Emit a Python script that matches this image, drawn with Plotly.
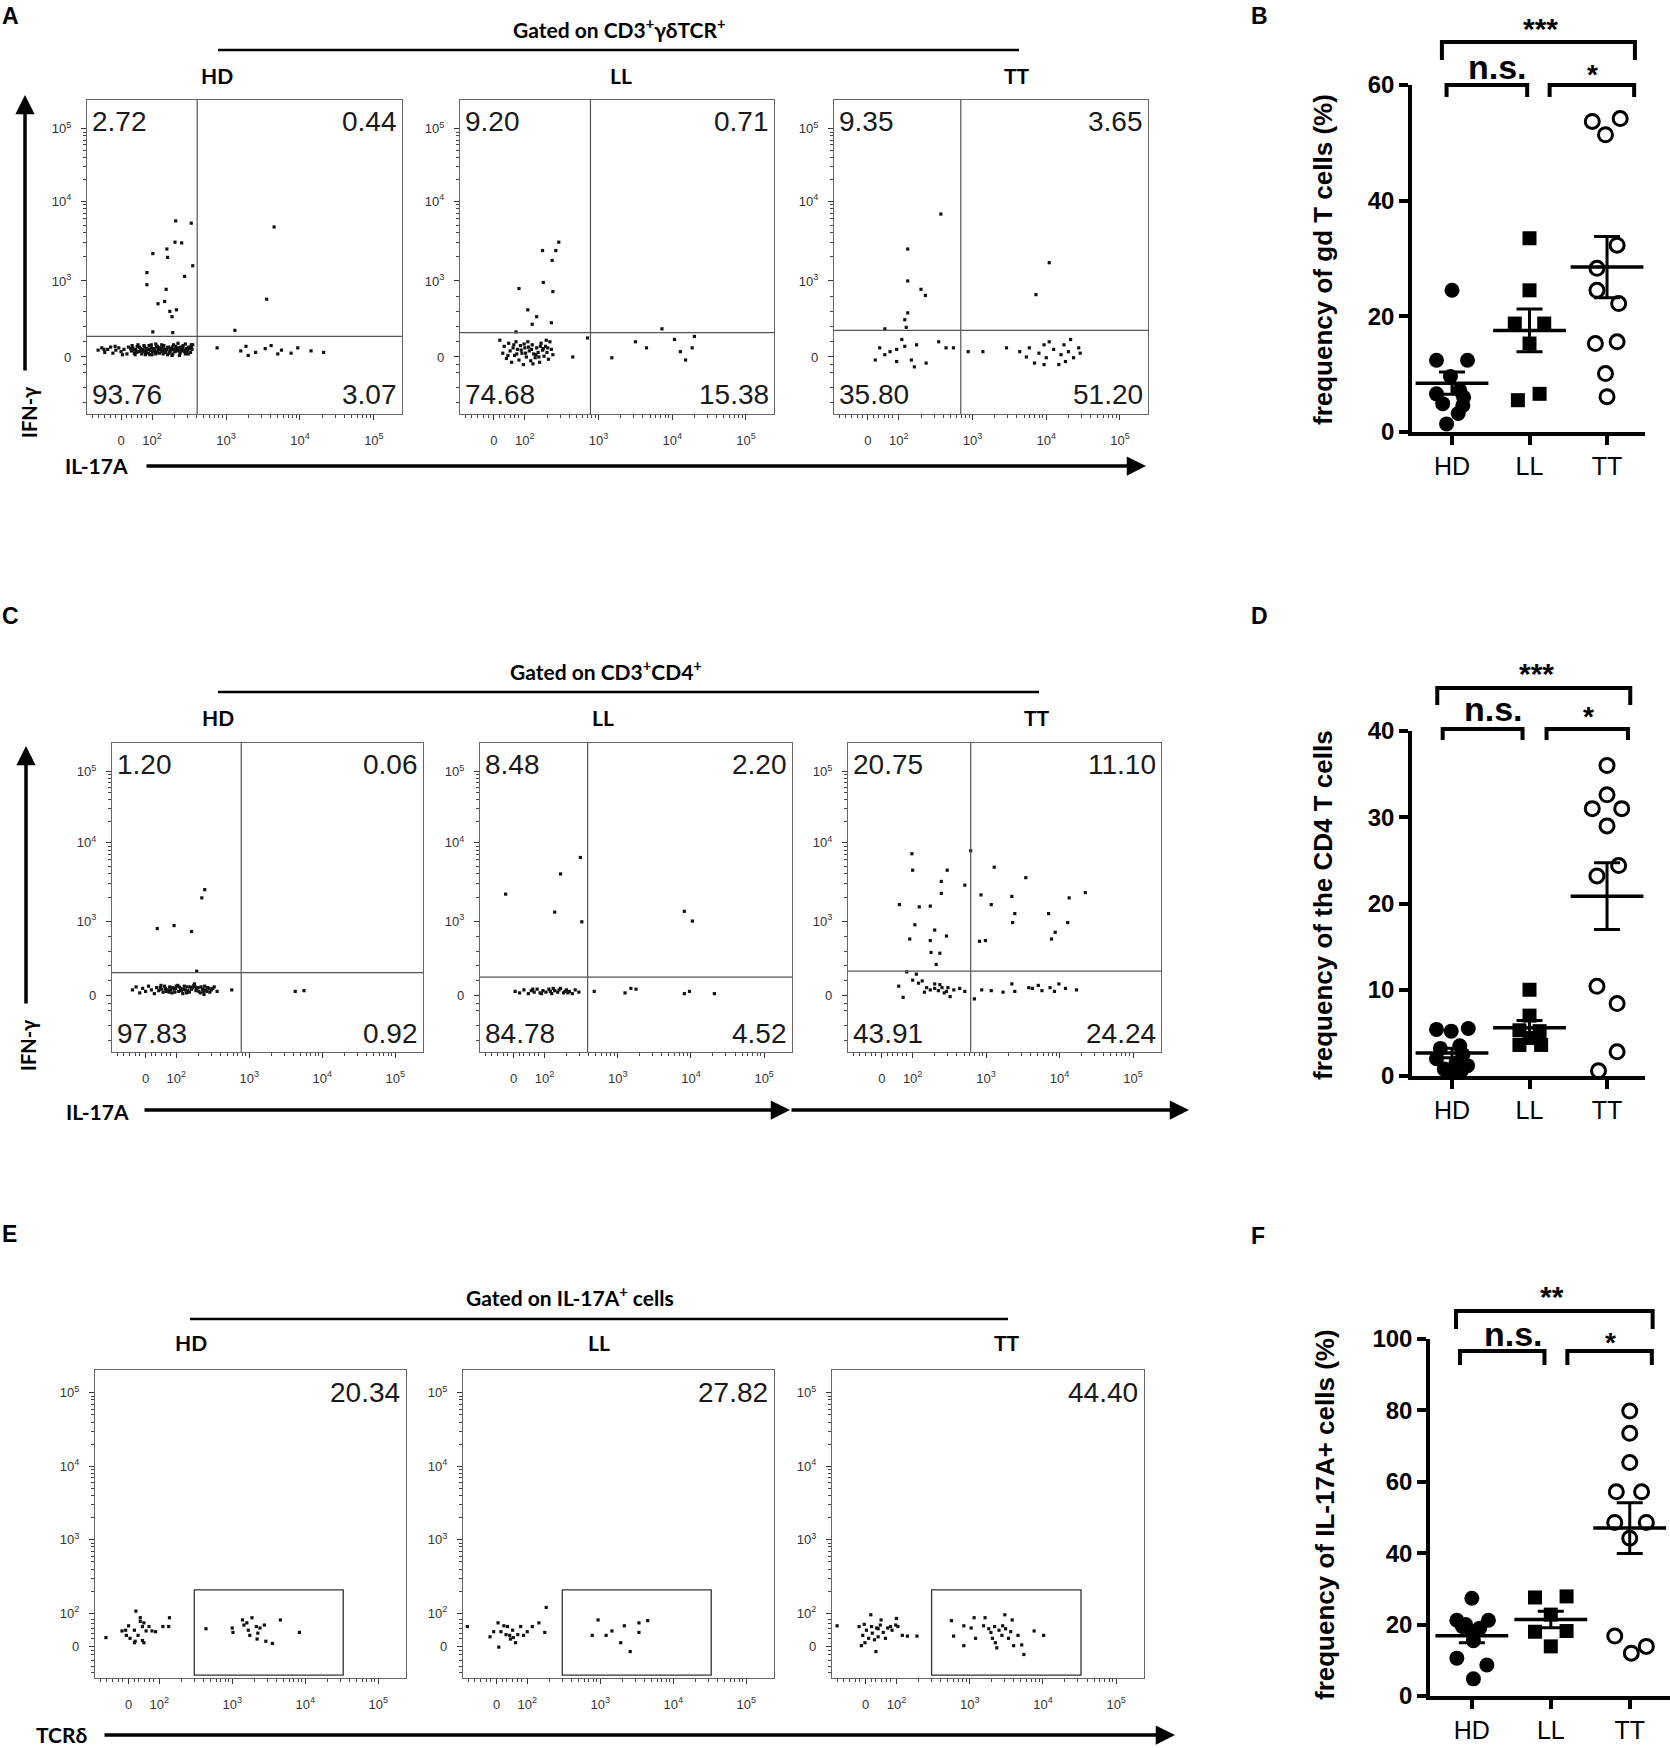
import math
import statistics
import plotly.graph_objects as go

W, H = 1670, 1748


def px(x):
    return x / W


def py(y):
    return 1 - y / H


groups = ["HD", "LL", "TT"]

# ---------------- dot plots (B, D, F) ----------------
# values (%) and horizontal spread of each dot (category units)
b_hd = [24.5, 12.4, 12.4, 9.6, 7.2, 6.6, 6.0, 4.9, 4.6, 3.2, 1.4]
b_hd_dx = [0, -0.2, 0.2, -0.02, 0.1, -0.2, 0.15, -0.12, 0.14, 0.08, -0.07]
b_ll = [33.5, 24.5, 18.75, 18.75, 15.3, 6.6, 5.5]
b_ll_dx = [0, 0, -0.19, 0.19, 0, 0.13, -0.15]
b_tt = [53.7, 51.4, 54.2, 32.3, 28.3, 24.5, 22.2, 15.3, 15.6, 10.1, 6.1]
b_tt_dx = [-0.19, -0.02, 0.17, 0.13, -0.13, -0.13, 0.15, -0.15, 0.13, -0.02, 0]

d_hd = [5.4, 5.2, 5.5, 3.5, 3.2, 2.5, 2.0, 1.5, 1.2, 0.8, 0.5, 0.6]
d_hd_dx = [-0.2, -0.01, 0.21, 0.1, -0.15, 0.14, -0.2, 0.05, 0.2, -0.1, 0.0, 0.12]
d_ll = [10.0, 7.0, 5.3, 5.2, 4.4, 3.6, 3.6]
d_ll_dx = [0, 0, -0.13, 0.13, 0, -0.13, 0.15]
d_tt = [36.0, 32.6, 31.0, 31.0, 29.0, 24.4, 23.2, 10.4, 8.4, 2.8, 0.6]
d_tt_dx = [0, 0, -0.19, 0.19, 0, 0.15, -0.13, -0.13, 0.13, 0.13, -0.11]

f_hd = [27.4, 21.2, 21.2, 20.0, 19.5, 19.0, 18.0, 15.5, 10.6, 8.7, 4.8]
f_hd_dx = [0, -0.19, 0.21, -0.08, -0.12, 0.1, 0.0, 0.02, -0.19, 0.19, 0.02]
f_ll = [27.6, 27.9, 22.8, 18.0, 18.2, 13.9]
f_ll_dx = [-0.2, 0.2, 0, -0.2, 0.2, 0]
f_tt = [79.8, 73.6, 65.4, 57.2, 57.2, 48.6, 48.6, 44.2, 16.8, 13.9, 12.0]
f_tt_dx = [0, 0, 0, -0.17, 0.15, -0.19, 0.21, 0, -0.19, 0.21, 0.02]

# ---------------- flow plots (A, C, E), display units of biexponential axes ----------------
a_hd_pts = [
    (1.27, 2.09), (1.32, 2.12), (1.35, 2.10), (1.36, 2.06), (1.40, 2.10), (1.44, 2.13), (1.47, 2.05),
    (1.50, 2.14), (1.51, 2.09), (1.55, 2.12), (1.58, 2.07), (1.60, 2.03), (1.62, 2.10), (1.66, 2.04),
    (1.68, 2.13), (1.72, 2.08), (1.74, 2.12), (1.75, 2.09), (1.76, 2.05), (1.78, 2.10), (1.79, 2.06),
    (1.80, 2.14), (1.82, 2.07), (1.83, 2.13), (1.84, 2.11), (1.85, 2.08), (1.86, 2.04), (1.87, 2.10),
    (1.88, 2.09), (1.90, 2.13), (1.91, 2.08), (1.92, 2.06), (1.93, 2.11), (1.94, 2.10), (1.95, 2.05),
    (1.96, 2.15), (1.98, 2.08), (1.99, 2.12), (2.00, 2.03), (2.01, 2.07), (2.02, 2.11), (2.03, 2.09),
    (2.04, 2.07), (2.05, 2.17), (2.06, 2.13), (2.07, 2.06), (2.08, 2.09), (2.09, 2.12), (2.10, 2.05),
    (2.11, 2.10), (2.12, 2.12), (2.14, 2.08), (2.15, 2.12), (2.16, 2.15), (2.17, 2.10), (2.18, 2.06),
    (2.19, 2.09), (2.20, 2.10), (2.22, 2.13), (2.23, 2.05), (2.24, 2.07), (2.25, 2.09), (2.26, 2.11),
    (2.27, 2.13), (2.28, 2.04), (2.30, 2.09), (2.31, 2.07), (2.32, 2.14), (2.33, 2.11), (2.34, 2.08),
    (2.35, 2.10), (2.36, 2.12), (2.38, 2.05), (2.39, 2.13), (2.40, 2.10), (2.41, 2.08), (2.42, 2.15),
    (2.43, 2.09), (2.44, 2.07), (2.45, 2.17), (2.46, 2.11), (2.47, 2.06), (2.48, 2.09), (2.49, 2.12),
    (2.50, 2.13), (2.51, 2.11), (2.52, 2.06), (2.54, 2.10), (2.55, 2.16), (2.35, 2.18),
    (1.97, 2.10), (2.13, 2.07), (2.21, 2.12), (2.29, 2.10), (2.37, 2.08), (2.53, 2.13), (1.89, 2.07),
    (1.73, 2.15), (1.77, 2.03), (1.81, 2.16), (1.89, 2.15), (1.97, 2.03), (2.05, 2.04), (2.13, 2.16),
    (2.21, 2.03), (2.29, 2.16), (2.37, 2.02), (2.45, 2.04), (2.53, 2.16), (1.71, 2.11), (1.99, 2.16),
    (2.27, 2.02), (2.41, 2.13), (2.07, 2.14), (1.91, 2.03), (2.15, 2.04), (2.49, 2.04),
    (2.32, 3.79), (2.53, 3.76), (2.31, 3.51), (2.40, 3.50), (2.01, 3.36), (2.20, 3.42), (2.21, 3.31),
    (2.55, 3.20), (1.93, 3.11), (2.44, 3.06), (1.93, 2.95), (2.19, 2.89), (2.08, 2.70), (2.17, 2.73),
    (2.33, 2.62), (2.24, 2.60), (2.27, 2.53), (2.01, 2.33), (2.28, 2.32),
    (3.65, 3.71), (3.55, 2.76), (3.12, 2.35),
    (2.88, 2.12), (3.20, 2.08), (3.27, 2.14), (3.40, 2.06), (3.53, 2.11), (3.61, 2.15), (3.75, 2.09),
    (3.88, 2.05), (3.97, 2.12), (4.15, 2.08), (4.32, 2.06), (3.30, 2.02), (3.70, 2.04),
]
a_ll_pts = [
    (1.66, 2.22), (1.70, 2.05), (1.72, 2.14), (1.75, 1.98), (1.78, 2.18), (1.80, 2.08), (1.82, 1.93),
    (1.84, 2.12), (1.86, 2.02), (1.88, 2.20), (1.90, 2.10), (1.92, 1.96), (1.94, 2.15), (1.96, 2.05),
    (1.98, 1.90), (2.00, 2.12), (2.02, 2.00), (2.04, 2.20), (2.06, 2.08), (2.08, 1.95), (2.10, 2.16),
    (2.12, 2.04), (2.14, 1.99), (2.16, 2.12), (2.18, 2.06), (2.20, 1.93), (2.22, 2.18), (2.24, 2.09),
    (2.26, 2.01), (2.28, 2.14), (2.30, 2.06), (2.32, 1.97), (2.34, 2.20), (2.36, 2.10), (2.38, 2.03),
    (1.85, 2.16), (1.95, 2.09), (2.05, 2.13), (2.15, 2.03), (2.25, 2.11), (1.77, 2.02), (1.99, 2.17),
    (2.11, 1.91), (2.21, 2.14), (2.31, 2.12), (1.89, 2.04), (2.09, 2.10), (2.19, 2.00), (2.29, 2.22),
    (2.01, 2.05),
    (2.46, 3.51), (2.24, 3.40), (2.42, 3.40), (2.37, 3.27), (1.92, 2.90), (2.25, 2.98), (2.38, 2.86),
    (2.04, 2.62), (2.16, 2.53), (2.36, 2.45), (2.10, 2.43), (1.88, 2.33),
    (2.85, 2.25), (3.18, 1.99), (3.50, 2.20), (3.65, 2.12), (3.86, 2.37), (4.03, 2.23), (4.11, 2.07),
    (4.18, 1.96), (4.30, 2.27), (4.27, 2.12), (2.65, 2.00),
]
a_tt_pts = [
    (2.57, 3.88), (2.12, 3.42), (2.12, 3.00), (2.30, 2.89), (2.36, 2.81), (2.12, 2.58), (2.08, 2.49),
    (2.10, 2.39), (4.04, 3.24), (3.86, 2.82), (1.81, 2.37),
    (1.68, 1.96), (1.74, 2.12), (1.88, 2.07), (1.97, 2.10), (2.04, 2.23), (2.08, 2.14), (2.17, 1.96),
    (2.24, 2.16), (2.37, 1.92), (2.54, 2.20), (2.64, 2.12), (2.74, 2.12), (2.21, 1.87), (1.97, 1.94),
    (1.81, 2.03),
    (2.94, 2.07), (3.14, 2.07), (3.46, 2.12), (3.64, 2.07), (3.77, 2.12), (3.84, 1.92), (3.90, 2.05),
    (3.97, 2.16), (4.00, 1.99), (4.04, 2.20), (4.10, 2.10), (4.17, 1.90), (4.20, 2.03), (4.24, 2.16),
    (4.26, 1.94), (4.30, 2.07), (4.33, 2.23), (4.37, 1.99), (4.44, 2.12), (4.46, 2.05), (3.97, 1.90),
    (3.73, 2.00),
]
c_hd_pts = [
    (1.40, 2.08), (1.45, 2.12), (1.50, 2.04), (1.54, 2.10), (1.58, 2.06), (1.62, 2.13), (1.66, 2.08),
    (1.70, 2.03), (1.73, 2.11), (1.76, 2.07), (1.79, 2.14), (1.82, 2.05), (1.85, 2.10), (1.88, 2.08),
    (1.91, 2.12), (1.94, 2.04), (1.97, 2.09), (2.00, 2.13), (2.03, 2.06), (2.06, 2.10), (2.09, 2.03),
    (2.12, 2.08), (2.15, 2.12), (2.18, 2.05), (2.21, 2.09), (2.24, 2.14), (2.27, 2.07), (2.30, 2.11),
    (2.33, 2.04), (2.36, 2.09), (2.39, 2.13), (2.42, 2.06), (2.45, 2.10), (2.48, 2.08), (2.52, 2.12),
    (2.56, 2.06), (1.80, 2.09), (1.86, 2.06), (1.92, 2.08), (1.98, 2.05), (2.04, 2.12), (2.10, 2.09),
    (2.16, 2.07), (2.22, 2.11), (2.28, 2.09), (2.34, 2.12), (2.40, 2.08), (2.46, 2.05), (1.95, 2.11),
    (2.07, 2.07), (2.19, 2.12), (2.31, 2.06), (2.43, 2.11), (2.25, 2.16), (2.38, 2.02),
    (1.78, 2.11), (1.84, 2.13), (1.90, 2.05), (2.02, 2.14), (2.14, 2.04), (2.26, 2.12), (2.37, 2.06),
    (2.50, 2.10), (1.99, 2.10), (2.11, 2.13),
    (2.39, 3.42), (2.35, 3.31), (1.74, 2.90), (1.97, 2.94), (2.21, 2.86), (2.28, 2.33),
    (3.63, 2.06), (3.75, 2.07), (2.76, 2.08),
]
c_ll_pts = [
    (1.60, 2.06), (1.66, 2.04), (1.72, 2.08), (1.78, 2.03), (1.82, 2.07), (1.86, 2.05), (1.90, 2.09),
    (1.94, 2.04), (1.98, 2.07), (2.02, 2.05), (2.06, 2.09), (2.10, 2.03), (2.14, 2.07), (2.18, 2.05),
    (2.22, 2.10), (2.26, 2.04), (2.30, 2.08), (2.34, 2.06), (2.38, 2.03), (2.42, 2.08), (2.47, 2.05),
    (1.84, 2.09), (1.96, 2.03), (2.08, 2.06), (2.20, 2.08), (2.32, 2.04), (2.12, 2.10), (2.28, 2.06),
    (1.47, 3.36), (2.22, 3.63), (2.49, 3.85), (2.14, 3.12), (2.51, 2.99), (3.91, 3.13), (4.02, 3.00),
    (3.10, 2.04), (3.18, 2.10), (3.25, 2.09), (2.68, 2.06), (3.91, 2.03), (3.98, 2.06), (4.32, 2.03),
]
c_tt_pts = [
    (1.99, 3.90), (2.00, 3.68), (2.47, 3.68), (2.39, 3.53), (2.39, 3.37), (2.71, 3.48), (1.82, 3.22),
    (2.24, 3.20), (2.09, 3.19), (2.03, 2.95), (2.30, 2.88), (1.96, 2.76), (2.46, 2.80), (2.25, 2.58),
    (2.37, 2.57), (2.32, 2.42), (2.24, 2.74),
    (2.79, 3.94), (3.11, 3.72), (3.54, 3.58), (2.93, 3.35), (3.35, 3.33), (3.07, 3.22), (3.39, 3.10),
    (3.36, 2.98), (3.85, 3.10), (4.13, 3.31), (4.35, 3.38), (4.11, 2.98), (3.94, 2.85), (3.89, 2.76),
    (2.91, 2.73), (2.99, 2.74),
    (1.81, 2.13), (1.87, 1.98), (1.92, 2.32), (2.05, 2.29), (2.13, 2.20), (2.19, 2.11), (2.24, 2.08),
    (2.30, 2.10), (2.35, 2.07), (2.40, 2.11), (2.46, 2.06), (2.51, 1.99), (2.56, 2.08), (2.64, 2.10),
    (2.71, 2.06), (2.08, 2.17), (2.30, 2.16), (2.43, 2.04), (2.48, 2.11), (2.16, 2.05), (2.00, 2.21),
    (2.37, 2.15),
    (2.84, 1.96), (2.94, 2.08), (3.07, 2.07), (3.23, 2.05), (3.35, 2.16), (3.39, 2.06), (3.58, 2.11),
    (3.71, 2.14), (3.76, 2.07), (3.87, 2.11), (3.99, 2.16), (4.08, 2.10), (4.23, 2.08), (3.93, 2.06),
    (3.63, 2.10),
]
e_hd_pts = [
    (1.27, 1.67), (1.49, 1.76), (1.55, 1.70), (1.58, 1.83), (1.60, 1.66), (1.66, 1.77), (1.68, 2.03),
    (1.71, 1.70), (1.74, 1.89), (1.77, 1.82), (1.79, 1.87), (1.79, 1.60), (1.82, 1.76), (1.86, 1.82),
    (1.90, 1.76), (1.95, 1.75), (2.05, 1.82), (2.14, 1.94), (2.13, 1.82), (1.67, 1.62), (1.54, 1.77),
    (1.74, 1.94), (1.66, 1.60), (1.77, 1.63),
    (2.64, 1.79), (3.00, 1.80), (3.01, 1.74), (3.14, 1.91), (3.16, 1.84), (3.20, 1.87), (3.27, 1.94),
    (3.22, 1.77), (3.24, 1.70), (3.33, 1.82), (3.34, 1.65), (3.38, 1.80), (3.44, 1.84), (3.46, 1.62),
    (3.55, 1.59), (3.66, 1.91), (3.92, 1.74), (3.35, 1.73),
]
e_ll_pts = [
    (1.18, 1.82), (1.49, 1.68), (1.54, 1.75), (1.60, 1.87), (1.61, 1.54), (1.64, 1.75), (1.68, 1.83),
    (1.71, 1.71), (1.73, 1.82), (1.77, 1.65), (1.80, 1.77), (1.84, 1.60), (1.87, 1.71), (1.91, 1.82),
    (1.95, 1.70), (2.00, 1.75), (2.07, 1.82), (2.16, 1.87), (2.24, 1.74), (2.26, 2.08), (1.76, 1.70),
    (1.81, 1.67),
    (2.89, 1.70), (2.97, 1.91), (3.08, 1.70), (3.16, 1.76), (3.28, 1.60), (3.33, 1.83), (3.41, 1.48),
    (3.53, 1.87), (3.53, 1.74), (3.65, 1.90),
]
e_tt_pts = [
    (1.19, 1.83), (1.49, 1.82), (1.52, 1.56), (1.54, 1.70), (1.57, 1.60), (1.59, 1.77), (1.62, 1.66),
    (1.65, 1.98), (1.66, 1.82), (1.67, 1.73), (1.70, 1.64), (1.72, 1.48), (1.73, 1.80), (1.75, 1.68),
    (1.78, 1.84), (1.79, 1.91), (1.82, 1.74), (1.85, 1.66), (1.88, 1.80), (1.92, 1.82), (1.94, 1.77),
    (1.99, 1.84), (2.00, 1.93), (2.02, 1.82), (2.08, 1.70), (2.15, 1.69), (2.28, 1.69), (1.56, 1.85),
    (1.75, 1.79),
    (2.75, 1.90), (2.78, 1.69), (2.92, 1.83), (2.92, 1.56), (3.02, 1.80), (3.06, 1.94), (3.08, 1.66),
    (3.19, 1.83), (3.21, 1.94), (3.26, 1.79), (3.29, 1.74), (3.31, 1.66), (3.35, 1.60), (3.37, 1.53),
    (3.40, 1.77), (3.44, 1.70), (3.45, 1.83), (3.48, 1.98), (3.49, 1.79), (3.53, 1.66), (3.56, 1.75),
    (3.58, 1.91), (3.60, 1.56), (3.66, 1.70), (3.71, 1.57), (3.74, 1.44), (3.88, 1.76), (4.01, 1.70),
    (3.34, 1.82),
]

# quadrant gate positions (x, y) and quadrant percentages (UL, UR, LL, LR)
a_gates = [(2.61, 2.27), (2.89, 2.32), (2.84, 2.35)]
a_pcts = [["2.72", "0.44", "93.76", "3.07"], ["9.20", "0.71", "74.68", "15.38"],
          ["9.35", "3.65", "35.80", "51.20"]]
c_gates = [(2.89, 2.31), (2.59, 2.25), (2.79, 2.33)]
c_pcts = [["1.20", "0.06", "97.83", "0.92"], ["8.48", "2.20", "84.78", "4.52"],
          ["20.75", "11.10", "43.91", "24.24"]]
e_gate = (2.48, 4.52, 1.16, 2.32)
e_pcts = ["20.34", "27.82", "44.40"]

# ---------------------------------------------------------------------------
fig = go.Figure()
axes = {}
shapes = []
annots = []
FONT = "Liberation Sans, Arial, sans-serif"
HEAD = "Lato, Liberation Sans, sans-serif"


def names(n):
    s = "" if n == 1 else str(n)
    return "x" + s, "y" + s, "xaxis" + s, "yaxis" + s


sup = {2: "10<sup>2</sup>", 3: "10<sup>3</sup>", 4: "10<sup>4</sup>", 5: "10<sup>5</sup>"}
log_minor = [d + math.log10(k) for d in (2, 3, 4) for k in range(2, 10)]
lin_minor = [1.2, 1.28, 1.36, 1.44, 1.5, 1.66, 1.72, 1.8, 1.86, 1.92]


def flow_axis(dom, rng, tickvals, ticktext, minor_vals, anchor, side):
    return dict(
        domain=dom, range=rng, anchor=anchor, side=side, automargin=False,
        showline=True, linecolor="#666", linewidth=1.3, mirror=True,
        showgrid=False, zeroline=False,
        tickmode="array", tickvals=tickvals, ticktext=ticktext,
        ticks="outside", ticklen=5, tickwidth=1, tickcolor="#333",
        tickfont=dict(family=FONT, size=13, color="#333"),
        minor=dict(tickmode="array", tickvals=minor_vals, ticks="outside",
                   ticklen=3, tickwidth=1, tickcolor="#444"),
    )


def flow_panel(n, box, pts, ykind):
    xa, ya, xk, yk = names(n)
    x0, x1, y0, y1 = box
    fig.add_trace(go.Scatter(
        x=[p[0] for p in pts], y=[p[1] for p in pts], mode="markers",
        marker=dict(size=3.2, color="#111", symbol="square"),
        xaxis=xa, yaxis=ya, showlegend=False, hoverinfo="skip"))
    axes[xk] = flow_axis([px(x0), px(x1)], [1.12, 5.38], [1.58, 2, 3, 4, 5],
                         ["0", sup[2], sup[3], sup[4], sup[5]],
                         lin_minor + log_minor, ya, "bottom")
    axes[xk]["ticklabelstandoff"] = 9
    if ykind == "ac":
        axes[yk] = flow_axis([py(y1), py(y0)], [1.25, 5.38], [2, 3, 4.05, 5],
                             ["0", sup[3], sup[4], sup[5]],
                             [1.4, 1.6, 1.8, 1.9, 2.2, 2.4, 2.6, 2.8]
                             + [3 + 1.05 * math.log10(k) for k in range(2, 10)]
                             + [4.05 + 0.95 * math.log10(k) for k in range(2, 10)],
                             xa, "left")
    else:
        axes[yk] = flow_axis([py(y1), py(y0)], [1.12, 5.31], [1.55, 2, 3, 4, 5],
                             ["0", sup[2], sup[3], sup[4], sup[5]],
                             lin_minor + log_minor, xa, "left")
    axes[yk]["ticklabelstandoff"] = 7
    return xa, ya


def quad_text(xa, ya, labels):
    spots = [(0.012, 0.985, "left", "top"), (0.988, 0.985, "right", "top"),
             (0.012, 0.008, "left", "bottom"), (0.988, 0.008, "right", "bottom")]
    for lab, (x, y, xan, yan) in zip(labels, spots):
        annots.append(dict(text=lab, x=x, y=y, xref=xa + " domain", yref=ya + " domain",
                           xanchor=xan, yanchor=yan, showarrow=False,
                           bgcolor="white" if yan == "bottom" else None, borderpad=0,
                           font=dict(family=FONT, size=28, color="#1a1a1a")))


def quad_lines(xa, ya, gx, gy):
    shapes.append(dict(type="line", xref=xa, yref=ya + " domain", x0=gx, x1=gx, y0=0, y1=1,
                       line=dict(color="#555", width=1.2)))
    shapes.append(dict(type="line", xref=xa + " domain", yref=ya, x0=0, x1=1, y0=gy, y1=gy,
                       line=dict(color="#555", width=1.2)))


n = 1
a_boxes = [(87, 402, 100, 414), (460, 774, 100, 414), (834, 1148, 100, 414)]
for box, pts, g, lab in zip(a_boxes, [a_hd_pts, a_ll_pts, a_tt_pts], a_gates, a_pcts):
    xa, ya = flow_panel(n, box, pts, "ac")
    quad_lines(xa, ya, *g)
    quad_text(xa, ya, lab)
    n += 1

c_boxes = [(112, 423, 743, 1052), (480, 792, 743, 1052), (848, 1161, 743, 1052)]
for box, pts, g, lab in zip(c_boxes, [c_hd_pts, c_ll_pts, c_tt_pts], c_gates, c_pcts):
    xa, ya = flow_panel(n, box, pts, "ac")
    quad_lines(xa, ya, *g)
    quad_text(xa, ya, lab)
    n += 1

e_boxes = [(95, 406, 1370, 1678), (463, 774, 1370, 1678), (832, 1144, 1370, 1678)]
for box, pts, lab in zip(e_boxes, [e_hd_pts, e_ll_pts, e_tt_pts], e_pcts):
    xa, ya = flow_panel(n, box, pts, "e")
    shapes.append(dict(type="rect", xref=xa, yref=ya, x0=e_gate[0], x1=e_gate[1],
                       y0=e_gate[2], y1=e_gate[3], line=dict(color="#333", width=1.3)))
    annots.append(dict(text=lab, x=0.988, y=0.985, xref=xa + " domain", yref=ya + " domain",
                       xanchor="right", yanchor="top", showarrow=False,
                       font=dict(family=FONT, size=28, color="#1a1a1a")))
    n += 1


# ---------------- dot plot panels ----------------
def dot_panel(n, xdom, ydom, xrng, yrng, yticks, data, title, title_xy, brackets, stars):
    xa, ya, xk, yk = names(n)
    styles = [dict(symbol="circle", size=15, color="black"),
              dict(symbol="square", size=14, color="black"),
              dict(symbol="circle", size=14, color="white", line=dict(color="black", width=3))]
    for i, ((vals, dx), st) in enumerate(zip(data, styles)):
        fig.add_trace(go.Scatter(x=[i + d for d in dx], y=vals, mode="markers", marker=st,
                                 cliponaxis=False, xaxis=xa, yaxis=ya, showlegend=False))
    for i, (vals, dx) in enumerate(data):
        m = statistics.mean(vals)
        sem = statistics.stdev(vals) / math.sqrt(len(vals))
        fig.add_trace(go.Scatter(
            x=[i], y=[m], mode="markers", cliponaxis=False,
            marker=dict(symbol="line-ew", size=52, line=dict(color="black", width=3.5)),
            error_y=dict(type="data", array=[sem], color="black", thickness=3, width=13),
            xaxis=xa, yaxis=ya, showlegend=False))
    axes[xk] = dict(domain=[px(xdom[0]), px(xdom[1])], range=xrng, anchor=ya,
                    automargin=False,
                    showline=True, linecolor="black", linewidth=3.5, showgrid=False,
                    zeroline=False, tickmode="array", tickvals=[0, 1, 2], ticktext=groups,
                    ticks="outside", ticklen=9, tickwidth=3.5, tickcolor="black",
                    tickfont=dict(family=FONT, size=25, color="black"))
    axes[yk] = dict(domain=[py(ydom[1]), py(ydom[0])], range=yrng, anchor=xa,
                    automargin=False,
                    showline=True, linecolor="black", linewidth=3.5, showgrid=False,
                    zeroline=False, tickmode="array", tickvals=yticks,
                    ticks="outside", ticklen=9, tickwidth=3.5, tickcolor="black",
                    tickfont=dict(family=FONT, size=24, color="black", weight="bold"))
    annots.append(dict(text=title, x=px(title_xy[0]), y=py(title_xy[1]), xref="paper",
                       yref="paper", textangle=-90, showarrow=False,
                       xanchor="center", yanchor="middle",
                       font=dict(family=FONT, size=26, color="black", weight="bold")))

    def cat_x(c):
        return xdom[0] + (c - xrng[0]) / (xrng[1] - xrng[0]) * (xdom[1] - xdom[0])

    for c0, c1, ytop, yleg in brackets:
        a, b = px(cat_x(c0)), px(cat_x(c1))
        shapes.append(dict(type="path", xref="paper", yref="paper",
                           path=f"M {a},{py(yleg)} L {a},{py(ytop)} L {b},{py(ytop)} L {b},{py(yleg)}",
                           line=dict(color="black", width=4)))
    for txt, x, y, size in stars:
        annots.append(dict(text=txt, x=px(x), y=py(y), xref="paper", yref="paper",
                           xanchor="center", yanchor="middle",
                           showarrow=False, font=dict(family=FONT, size=size, color="black",
                                                      weight="bold")))


dot_panel(n, (1412, 1645), (85, 432), [-0.516, 2.49], [0, 60], [0, 20, 40, 60],
          [(b_hd, b_hd_dx), (b_ll, b_ll_dx), (b_tt, b_tt_dx)],
          "frequency of gd T cells (%)", (1323, 260),
          [(-0.13, 2.36, 42, 60), (-0.07, 0.97, 85, 97), (1.26, 2.35, 85, 97)],
          [("***", 1540, 29, 30), ("n.s.", 1497, 67, 34), ("*", 1592, 74, 28)])
n += 1
dot_panel(n, (1412, 1645), (731, 1076), [-0.516, 2.49], [0, 40], [0, 10, 20, 30, 40],
          [(d_hd, d_hd_dx), (d_ll, d_ll_dx), (d_tt, d_tt_dx)],
          "frequency of the CD4 T cells", (1323, 905),
          [(-0.19, 2.3, 688, 705), (-0.12, 0.91, 729, 740), (1.22, 2.27, 729, 740)],
          [("***", 1536, 673, 30), ("n.s.", 1493, 709, 34), ("*", 1588, 716, 28)])
n += 1
dot_panel(n, (1430, 1670), (1339, 1696), [-0.53, 2.51], [0, 100], [0, 20, 40, 60, 80, 100],
          [(f_hd, f_hd_dx), (f_ll, f_ll_dx), (f_tt, f_tt_dx)],
          "frequency of IL-17A+ cells (%)", (1325, 1515),
          [(-0.2, 2.29, 1311, 1329), (-0.15, 0.92, 1351, 1365), (1.21, 2.28, 1351, 1365)],
          [("**", 1552, 1296, 30), ("n.s.", 1513, 1334, 34), ("*", 1610, 1342, 28)])


# ---------------- text, headers, arrows ----------------
def text(t, x, y, size, family=FONT, bold=True, angle=0, xanchor="center"):
    annots.append(dict(text=t, x=px(x), y=py(y), xref="paper", yref="paper", showarrow=False,
                       textangle=angle, xanchor=xanchor, yanchor="middle",
                       font=dict(family=family, size=size, color="black",
                                 weight="bold" if bold else "normal")))


def arrow(x0, y0, x1, y1, width=3.5):
    annots.append(dict(text="", x=px(x1), y=py(y1), xref="paper", yref="paper",
                       ax=x0 - x1, ay=y0 - y1, showarrow=True, arrowhead=2, arrowsize=1.1,
                       arrowwidth=width, arrowcolor="black", standoff=0))


for lab, x, y in [("A", 0, 16), ("B", 1249, 16), ("C", 0, 616), ("D", 1249, 616),
                  ("E", 0, 1234), ("F", 1249, 1236)]:
    text(lab, x, y, 23, xanchor="left")

headers = [("Gated on CD3<sup>+</sup>γδTCR<sup>+</sup>", 619, 28, 218, 1019, 50, 76,
            [217, 621, 1017]),
           ("Gated on CD3<sup>+</sup>CD4<sup>+</sup>", 606, 670, 218, 1039, 692, 718,
            [218, 603, 1037]),
           ("Gated on IL-17A<sup>+</sup> cells", 570, 1296, 190, 1008, 1319, 1342,
            [191, 599, 1007])]
for title, tx, ty, l0, l1, ly, gy, gxs in headers:
    text(title, tx, ty, 21, family=HEAD)
    shapes.append(dict(type="line", xref="paper", yref="paper", x0=px(l0), x1=px(l1),
                       y0=py(ly), y1=py(ly), line=dict(color="black", width=2.5)))
    for g, gx in zip(groups, gxs):
        text(g, gx, gy, 21, family=HEAD)

# axis names and long arrows
text("IFN-γ", 29, 412, 20, family=HEAD, angle=-90)
arrow(25, 372, 25, 95)
text("IL-17A", 96, 466, 21, family=HEAD)
arrow(145, 466, 1146, 466)

text("IFN-γ", 28, 1045, 20, family=HEAD, angle=-90)
arrow(26, 1005, 26, 746)
text("IL-17A", 97, 1111, 21, family=HEAD)
arrow(143, 1110, 790, 1110)
arrow(790, 1110, 1189, 1110)

text("TCRδ", 61, 1734, 21, family=HEAD)
arrow(103, 1735, 1175, 1735)

fig.update_layout(
    width=W, height=H, margin=dict(l=0, r=0, t=0, b=0, pad=0),
    paper_bgcolor="white", plot_bgcolor="white", showlegend=False,
    font=dict(family=FONT, color="black"),
    shapes=shapes, annotations=annots, **axes)

# the page body keeps its default 8px margin otherwise
fig.write_html("out.html", config={"displayModeBar": False},
               post_script="document.body.style.margin='0';")
